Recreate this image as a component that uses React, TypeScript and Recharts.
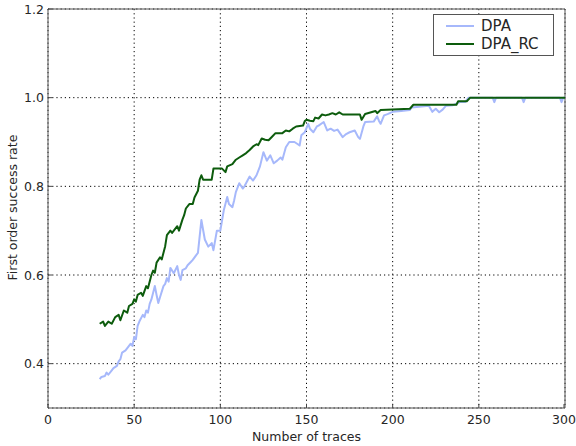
import React from "react";
import { LineChart, Line, XAxis, YAxis, CartesianGrid, ReferenceArea } from "recharts";

// Number of traces where each curve has a sample
const dpaX = [30,31,33,34,35,37,38,40,41,42,43,45,46,48,49,50,51,52,53,55,56,57,58,59,60,61,62,63,64,65,67,68,69,70,71,73,75,76,77,78,80,81,83,84,86,87,89,91,93,95,96,98,100,102,104,105,107,108,109,111,113,114,116,117,119,121,123,125,127,129,131,133,135,136,138,140,143,145,146,147,149,151,152,154,156,157,160,162,164,166,168,171,173,175,178,180,181,183,184,189,191,192,193,195,197,200,205,210,211,221,223,225,227,229,231,235,239,242,244,258,259,260,275,276,277,297,298,299,300];
const dpaY = [0.365,0.37,0.372,0.38,0.375,0.385,0.39,0.395,0.405,0.41,0.425,0.43,0.435,0.445,0.44,0.46,0.455,0.485,0.495,0.51,0.505,0.52,0.515,0.535,0.545,0.56,0.575,0.555,0.537,0.55,0.575,0.58,0.593,0.585,0.616,0.604,0.62,0.6,0.589,0.611,0.615,0.622,0.63,0.634,0.645,0.65,0.724,0.68,0.664,0.672,0.656,0.7,0.7,0.746,0.776,0.76,0.753,0.768,0.787,0.807,0.795,0.8,0.815,0.822,0.813,0.825,0.845,0.877,0.858,0.87,0.852,0.858,0.865,0.86,0.888,0.9,0.9,0.895,0.892,0.915,0.922,0.941,0.93,0.922,0.935,0.937,0.945,0.926,0.93,0.925,0.928,0.911,0.918,0.922,0.926,0.911,0.907,0.935,0.945,0.946,0.958,0.948,0.941,0.96,0.963,0.968,0.97,0.972,0.978,0.982,0.968,0.975,0.967,0.973,0.982,0.983,0.99,0.99,1.0,1.0,0.99,1.0,1.0,0.99,1.0,1.0,0.99,1.0,1.0];

const rcX = [30,32,33,35,37,39,41,42,44,46,47,49,50,51,52,54,55,57,58,60,61,62,63,65,66,68,69,71,72,74,75,76,78,79,80,82,84,85,87,88,89,90,95,96,101,103,104,107,109,111,113,115,117,119,121,122,124,126,128,130,132,136,138,140,142,144,146,148,149,150,152,154,155,157,159,161,163,165,167,169,171,181,182,184,190,191,193,210,212,237,238,243,245,300];
const rcY = [0.49,0.495,0.485,0.495,0.49,0.505,0.51,0.498,0.52,0.515,0.53,0.535,0.545,0.54,0.555,0.56,0.553,0.575,0.57,0.6,0.61,0.605,0.628,0.64,0.635,0.665,0.69,0.7,0.695,0.705,0.71,0.7,0.725,0.735,0.75,0.76,0.76,0.775,0.79,0.815,0.825,0.815,0.815,0.84,0.84,0.832,0.845,0.85,0.86,0.865,0.87,0.875,0.882,0.89,0.895,0.893,0.908,0.905,0.904,0.912,0.92,0.92,0.926,0.924,0.93,0.935,0.936,0.937,0.947,0.95,0.948,0.947,0.955,0.953,0.962,0.96,0.962,0.965,0.962,0.967,0.962,0.962,0.95,0.963,0.97,0.965,0.972,0.975,0.984,0.984,0.992,0.992,1.0,1.0];

const xTicks = [0, 50, 100, 150, 200, 250, 300];
const yTicks = [0.4, 0.6, 0.8, 1.0, 1.2];

const seriesNames = ["DPA", "DPA_RC"];

const dpaData = dpaX.map((x, i) => ({ x, y: dpaY[i] }));
const rcData = rcX.map((x, i) => ({ x, y: rcY[i] }));

const FONT = "'DejaVu Sans', sans-serif";
const TEXT = "#262626";
const BLUE = "#a6b8fb";
const GREEN = "#0d5c0d";
const seriesColors = [BLUE, GREEN];

const XTick = (props: any) => {
  const { x, y, payload } = props;
  return (
    <g>
      <line x1={x} y1={y} x2={x} y2={y - 4} stroke="#444" />
      <text x={x} y={y + 16} textAnchor="middle" fontSize={12.5} fontFamily={FONT} fill={TEXT}>
        {payload.value}
      </text>
    </g>
  );
};

const YTick = (props: any) => {
  const { x, y, payload } = props;
  return (
    <g>
      <line x1={x} y1={y} x2={x + 4} y2={y} stroke="#444" />
      <text x={x - 4} y={y + 4.5} textAnchor="end" fontSize={12.5} fontFamily={FONT} fill={TEXT}>
        {Number(payload.value).toFixed(1)}
      </text>
    </g>
  );
};

const LegendBox = () => (
  <div
    style={{
      position: "absolute",
      left: 433,
      top: 14,
      width: 121,
      height: 42,
      border: "1px solid #555",
      background: "#fff",
      boxSizing: "border-box",
      fontFamily: FONT,
      fontSize: 15,
      color: TEXT,
      padding: "2px 0 0 12px",
      lineHeight: "18px",
    }}
  >
    {seriesNames.map((name, i) => (
      <div key={name} style={{ display: "flex", alignItems: "center", height: 18 }}>
        <span style={{ display: "inline-block", width: 28, height: 2, background: seriesColors[i], marginRight: 7 }} />
        <span>{name}</span>
      </div>
    ))}
  </div>
);

export default function App() {
  return (
    <div style={{ position: "absolute", left: 0, top: 0, width: 576, height: 446, background: "#fff" }}>
      <LineChart width={576} height={446} margin={{ top: 9, right: 11, left: 0, bottom: 0 }}>
        <CartesianGrid stroke="#000" strokeDasharray="1.2 3" strokeWidth={1} />
        <XAxis
          dataKey="x"
          type="number"
          domain={[0, 300]}
          ticks={xTicks}
          allowDataOverflow
          height={38}
          tickSize={0}
          tickMargin={0}
          tick={<XTick />}
          axisLine={false}
          tickLine={false}
          label={{ value: "Number of traces", position: "insideBottom", offset: 5, fontSize: 12.5, fontFamily: FONT, fill: TEXT }}
        />
        <YAxis
          type="number"
          domain={[0.3, 1.2]}
          ticks={yTicks}
          allowDataOverflow
          width={48}
          tickSize={0}
          tickMargin={0}
          tick={<YTick />}
          axisLine={false}
          tickLine={false}
          label={{ value: "First order success rate", angle: -90, position: "insideLeft", offset: 13, dy: 72, fontSize: 12.5, fontFamily: FONT, fill: TEXT }}
        />
        <Line data={dpaData} dataKey="y" name={seriesNames[0]} stroke={BLUE} strokeWidth={2} dot={false} isAnimationActive={false} strokeLinejoin="round" />
        <Line data={rcData} dataKey="y" name={seriesNames[1]} stroke={GREEN} strokeWidth={2} dot={false} isAnimationActive={false} strokeLinejoin="round" />
        <ReferenceArea x1={0} x2={300} y1={0.3} y2={1.2} fill="none" stroke="#555" strokeWidth={1} ifOverflow="visible" />
      </LineChart>
      <LegendBox />
    </div>
  );
}
